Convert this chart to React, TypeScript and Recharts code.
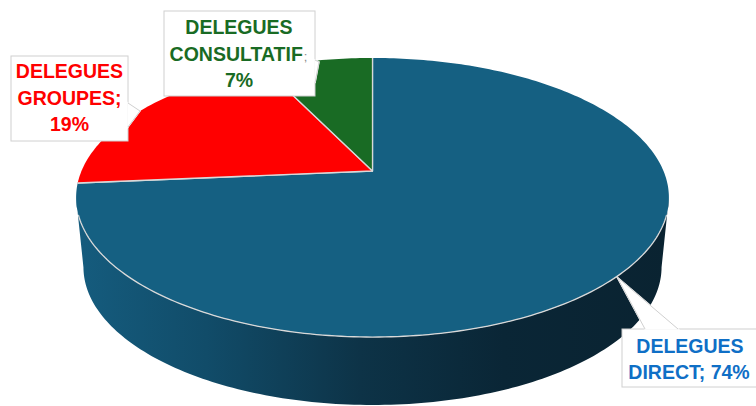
import React from 'react';
import { PieChart, Pie, Cell } from 'recharts';

const categories = ['DELEGUES DIRECT', 'DELEGUES GROUPES', 'DELEGUES CONSULTATIF'];
const shares = [73.6, 19.2, 7.2];
const data = categories.map((name, i) => ({ name, value: shares[i] }));
const pct = (i: number) => `${Math.round(shares[i])}%`;

const sliceColors = ['#156082', '#ff0000', '#196b24'];
const textColors = ['#0f6fc6', '#ff0000', '#196b24'];

// perspective view of the disc: k shortens the back half
const topFace = { x: 372.5, y: 171, a: 291, b: 134.5, k: 0.19 };
const bottomFace = { x: 372.5, y: 240.8, a: 283.8, b: 133, k: 0.19 };
const FRONT_Y = 197.5;
const RIM_Y = 214; // the pale rim line only shows along the front of the disc

const project = (deg: number, f: typeof topFace) => {
  const r = (deg * Math.PI) / 180;
  const d = 1 + f.k * Math.sin(r);
  return [f.x + (f.a * Math.cos(r)) / d, f.y - (f.b * Math.sin(r)) / d];
};

const anglesBetween = (start: number, end: number) => {
  const out: number[] = [];
  const step = end > start ? 1 : -1;
  for (let a = start; step > 0 ? a < end : a > end; a += step) out.push(a);
  out.push(end);
  return out;
};

const toPath = (pts: number[][]) =>
  pts.map((p, i) => `${i ? 'L' : 'M'}${p[0].toFixed(2)} ${p[1].toFixed(2)}`).join(' ');

const TopSlice = (props: any) => {
  const pts = anglesBetween(props.startAngle, props.endAngle).map((a) => project(a, topFace));
  const d = `M${topFace.x} ${topFace.y} ${toPath(pts).replace('M', 'L')} Z`;
  const apex = [topFace.x, topFace.y];
  const rim = pts.filter((p) => p[1] >= RIM_Y);
  const line = { fill: 'none', stroke: '#d9d9d9', strokeWidth: 1.3, strokeLinejoin: 'round' as const };
  return (
    <g>
      <path d={d} fill={props.fill} stroke="none" />
      <path d={toPath([pts[0], apex, pts[pts.length - 1]])} {...line} />
      {rim.length > 1 ? <path d={toPath(rim)} {...line} /> : null}
    </g>
  );
};

const WallSlice = (props: any) => {
  const front = anglesBetween(props.startAngle, props.endAngle).filter(
    (a) => project(a, topFace)[1] >= FRONT_Y,
  );
  if (!front.length) return null;
  const upper = front.map((a) => project(a, topFace));
  const lower = front.map((a) => project(a, bottomFace)).reverse();
  return <path d={`${toPath([...upper, ...lower])} Z`} fill="url(#wallShade)" />;
};

const labelBoxes = [
  {
    x: 622, y: 329, w: 136, h: 58,
    pointer: [[645, 329], [617, 277], [678, 329]],
    lines: [
      { text: 'DELEGUES', x: 690, y: 353 },
      { text: `DIRECT; ${pct(0)}`, x: 689, y: 379 },
    ],
  },
  {
    x: 11, y: 56, w: 117, h: 85,
    pointer: [[128, 103], [140, 111], [128, 127]],
    lines: [
      { text: 'DELEGUES', x: 69.5, y: 78 },
      { text: 'GROUPES;', x: 69.5, y: 105 },
      { text: pct(1), x: 69.5, y: 131 },
    ],
  },
  {
    x: 164, y: 11, w: 151, h: 85,
    pointer: [[315, 60], [319, 62], [315, 83]],
    lines: [
      { text: 'DELEGUES', x: 239, y: 34 },
      { text: 'CONSULTATIF', x: 238.5, y: 61, tail: ';' },
      { text: pct(2), x: 239, y: 87 },
    ],
  },
];

const SliceLabel = (props: any) => {
  const box = labelBoxes[props.index];
  const color = textColors[props.index];
  const [p0, p1, p2] = box.pointer;
  return (
    <g>
      <rect x={box.x} y={box.y} width={box.w} height={box.h} fill="#ffffff" stroke="#d0d0d0" strokeWidth={1} />
      <polygon points={box.pointer.map((p) => p.join(',')).join(' ')} fill="#ffffff" stroke="#ffffff" strokeWidth={1.5} />
      <path d={`M${p0[0]} ${p0[1]} L${p1[0]} ${p1[1]} L${p2[0]} ${p2[1]}`} fill="none" stroke="#d0d0d0" strokeWidth={1} />
      {box.lines.map((line: any) => (
        <text
          key={line.text}
          x={line.x}
          y={line.y}
          textAnchor="middle"
          fill={color}
          fontFamily="'Liberation Sans', sans-serif"
          fontWeight={700}
          fontSize={19.5}
        >
          {line.text}
          {line.tail ? <tspan dx={1} fill="#8a8a8a" fontWeight={400} fontSize={13}>{line.tail}</tspan> : null}
        </text>
      ))}
    </g>
  );
};

export default function App() {
  return (
    <div style={{ position: 'absolute', left: 0, top: 0, width: 756, height: 406, background: '#fff' }}>
      <PieChart width={756} height={406} margin={{ top: 0, right: 0, bottom: 0, left: 0 }}>
        <defs>
          <linearGradient id="wallShade" gradientUnits="userSpaceOnUse" x1="76" y1="0" x2="669" y2="0">
            <stop offset="0" stopColor="#155c7e" />
            <stop offset="0.22" stopColor="#114c69" />
            <stop offset="0.48" stopColor="#0d3347" />
            <stop offset="0.72" stopColor="#0a2636" />
            <stop offset="1" stopColor="#0a2331" />
          </linearGradient>
        </defs>
        <Pie
          data={data}
          dataKey="value"
          nameKey="name"
          cx={372}
          cy={200}
          outerRadius={130}
          startAngle={90}
          endAngle={-270}
          stroke="none"
          shape={WallSlice}
          isAnimationActive={false}
        />
        <Pie
          data={data}
          dataKey="value"
          nameKey="name"
          cx={372}
          cy={200}
          outerRadius={130}
          startAngle={90}
          endAngle={-270}
          shape={TopSlice}
          label={SliceLabel}
          labelLine={false}
          isAnimationActive={false}
        >
          {data.map((d, i) => (
            <Cell key={d.name} fill={sliceColors[i]} />
          ))}
        </Pie>
      </PieChart>
    </div>
  );
}
